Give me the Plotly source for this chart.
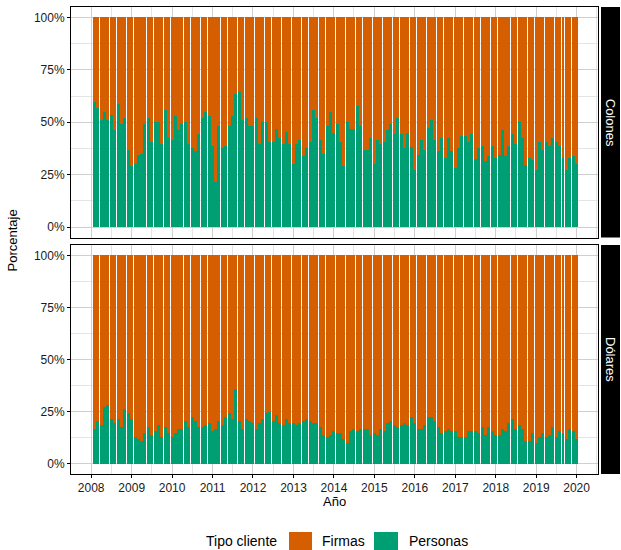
import pandas as pd
import plotly.graph_objects as go

# ---------------- data ----------------
fechas = pd.date_range("2008-01-31", periods=144, freq="ME").strftime("%Y-%m-%d").tolist()

personas_colones = [
    59.8, 56.6, 51.2, 55.0, 50.9, 53.7, 46.4, 58.5, 49.0, 51.8,
    36.8, 29.2, 30.1, 34.6, 34.9, 49.0, 52.2, 40.7, 49.9, 50.2,
    39.7, 55.7, 42.6, 41.6, 52.8, 46.1, 49.0, 50.2, 39.4, 37.8,
    36.5, 44.5, 52.2, 55.0, 53.1, 38.8, 21.5, 48.3, 37.8, 38.8,
    48.0, 52.8, 63.6, 64.6, 50.9, 51.8, 48.0, 48.0, 52.2, 39.4,
    49.9, 50.2, 40.7, 40.4, 47.0, 42.3, 39.7, 45.5, 39.4, 30.1,
    39.7, 41.3, 33.7, 37.5, 40.7, 55.7, 52.2, 41.3, 34.9, 48.0,
    54.7, 45.1, 49.3, 40.4, 28.9, 49.9, 47.0, 47.0, 57.9, 48.0,
    36.8, 36.8, 42.3, 30.1, 41.6, 39.7, 40.7, 46.1, 49.3, 44.5,
    51.8, 44.5, 37.8, 45.1, 38.4, 27.3, 34.6, 41.6, 36.8, 47.4,
    51.2, 41.3, 36.5, 42.6, 33.0, 42.3, 36.5, 28.2, 37.5, 43.5,
    43.5, 40.4, 44.5, 32.7, 37.5, 38.8, 31.7, 34.0, 38.8, 33.0,
    34.6, 46.4, 33.7, 38.8, 44.2, 39.4, 49.9, 42.3, 29.8, 33.0,
    32.1, 27.3, 40.7, 36.8, 40.7, 38.8, 42.3, 40.7, 38.8, 33.0,
    27.3, 33.0, 33.7, 30.1,
]

personas_dolares = [
    16.4, 20.6, 18.7, 27.0, 28.2, 21.2, 19.3, 21.2, 17.7, 26.0,
    24.4, 21.5, 12.9, 12.0, 10.7, 14.8, 17.4, 13.9, 15.5, 18.3,
    12.6, 17.7, 14.8, 12.9, 14.5, 16.4, 16.4, 20.3, 17.7, 22.2,
    20.3, 17.7, 17.7, 18.7, 19.6, 15.5, 16.7, 20.3, 18.3, 22.5,
    24.4, 21.5, 35.6, 20.3, 16.7, 21.2, 20.6, 19.6, 16.4, 19.3,
    21.2, 24.1, 25.0, 20.3, 23.4, 19.3, 18.3, 21.2, 19.6, 19.3,
    18.7, 19.6, 20.6, 21.2, 20.6, 19.3, 19.3, 17.4, 13.6, 12.9,
    13.6, 15.8, 14.5, 14.5, 11.6, 9.7, 15.5, 16.7, 15.5, 16.7,
    16.4, 16.4, 13.9, 14.5, 13.9, 16.4, 15.8, 19.3, 20.6, 18.7,
    17.7, 18.3, 19.6, 18.7, 22.5, 19.6, 16.7, 16.4, 18.3, 22.5,
    22.5, 20.3, 17.4, 14.5, 15.5, 16.4, 15.5, 15.8, 12.6, 12.9,
    12.6, 15.8, 15.5, 15.5, 14.8, 17.4, 13.9, 17.7, 15.5, 13.9,
    13.9, 16.7, 15.5, 19.3, 21.5, 16.4, 18.7, 16.4, 10.7, 10.7,
    14.5, 10.0, 12.6, 14.5, 12.9, 13.6, 17.4, 12.9, 15.8, 14.5,
    12.0, 16.4, 15.8, 12.0,
]

# share of the other client type (each month sums to 100%)
firmas_colones = [round(100 - v, 1) for v in personas_colones]
firmas_dolares = [round(100 - v, 1) for v in personas_dolares]

monedas = ["Colones", "Dólares"]
tipos = ["Firmas", "Personas"]
y_ticks = [0, 25, 50, 75, 100]
y_tick_labels = ["0%", "25%", "50%", "75%", "100%"]

# ---------------- styling ----------------
C_FIRMAS = "#D55E00"
C_PERSONAS = "#009E73"
FONT = "Liberation Sans, Arial, sans-serif"
BAR_W = 27.0 * 24 * 3600 * 1000  # bar width in ms
W, H = 621, 550
ML, MR, MT, MB = 71, 23, 7, 76
PW = W - ML - MR
PH = H - MT - MB

def px_x(p):
    return (p - ML) / PW

def px_y(p):
    return (H - MB - p) / PH

top_dom = [px_y(237.5), 1.0]
bot_dom = [0.0, px_y(245)]

fig = go.Figure()
panels = [("x", "y", personas_colones, firmas_colones),
          ("x2", "y2", personas_dolares, firmas_dolares)]
for xa, ya, pers, firm in panels:
    fig.add_trace(go.Bar(x=fechas, y=pers, name="Personas", width=BAR_W,
                         marker=dict(color=C_PERSONAS, line=dict(width=0)),
                         xaxis=xa, yaxis=ya, showlegend=False))
    fig.add_trace(go.Bar(x=fechas, y=firm, name="Firmas", width=BAR_W,
                         marker=dict(color=C_FIRMAS, line=dict(width=0)),
                         xaxis=xa, yaxis=ya, showlegend=False))

grid_major = "#cfcfcf"
grid_minor = "#e4e4e4"
x_range = ["2007-07-03", "2020-07-12"]

common_x = dict(type="date", range=x_range, showline=True, mirror=True,
                linecolor="black", linewidth=1, showgrid=True,
                gridcolor=grid_major, gridwidth=1, dtick="M12",
                tick0="2008-01-01", tickformat="%Y",
                minor=dict(dtick="M6", tick0="2008-07-01", showgrid=True,
                           gridcolor=grid_minor, gridwidth=1),
                zeroline=False)
common_y = dict(range=[-5, 105], tickvals=y_ticks, ticktext=y_tick_labels,
                ticks="outside", ticklen=3, tickcolor="black", showline=True,
                mirror=True, linecolor="black", linewidth=1, showgrid=True,
                gridcolor=grid_major, gridwidth=1,
                minor=dict(tickvals=[12.5, 37.5, 62.5, 87.5], showgrid=True,
                           gridcolor=grid_minor, gridwidth=1),
                zeroline=False, tickfont=dict(size=12, color="#1a1a1a"))

fig.update_layout(
    xaxis=dict(**common_x, anchor="y", domain=[0, 1], showticklabels=False, ticks=""),
    xaxis2=dict(**common_x, anchor="y2", domain=[0, 1], matches="x",
                ticks="outside", ticklen=3, tickcolor="black",
                tickfont=dict(size=12, color="#1a1a1a")),
    yaxis=dict(**common_y, anchor="x", domain=top_dom),
    yaxis2=dict(**common_y, anchor="x2", domain=bot_dom),
    barmode="stack",
    bargap=0,
    width=W, height=H,
    margin=dict(l=ML, r=MR, t=MT, b=MB),
    paper_bgcolor="white", plot_bgcolor="white",
    font=dict(family=FONT, size=12, color="black"),
    showlegend=False,
)

shapes = []
annotations = []
# facet strips on the right
for dom, label in zip([top_dom, bot_dom], monedas):
    shapes.append(dict(type="rect", xref="paper", yref="paper",
                       x0=px_x(601), x1=px_x(620), y0=dom[0], y1=dom[1],
                       fillcolor="black", line=dict(width=0), layer="below"))
    annotations.append(dict(xref="paper", yref="paper", x=px_x(610.5),
                            y=(dom[0] + dom[1]) / 2, text=label, textangle=90,
                            xanchor="center", yanchor="middle",
                            showarrow=False, font=dict(size=13, color="white")))

# axis titles
annotations.append(dict(xref="paper", yref="paper", x=px_x(12), y=0.5,
                        xanchor="center", yanchor="middle",
                        text="Porcentaje", textangle=-90, showarrow=False,
                        font=dict(size=13)))
annotations.append(dict(xref="paper", yref="paper", x=0.5, y=px_y(501),
                        xanchor="center", yanchor="middle",
                        text="Año", showarrow=False, font=dict(size=13)))

# legend (bottom)
ly0, ly1 = px_y(550), px_y(532)
lyc = px_y(541)
annotations.append(dict(xref="paper", yref="paper", x=px_x(204), y=lyc,
                        xanchor="left", yanchor="middle", text="Tipo cliente",
                        showarrow=False, font=dict(size=14)))
legend_items = [(tipos[0], C_FIRMAS, 289, 312, 320),
                (tipos[1], C_PERSONAS, 374, 398, 407)]
for name, col, bx0, bx1, tx in legend_items:
    shapes.append(dict(type="rect", xref="paper", yref="paper",
                       x0=px_x(bx0), x1=px_x(bx1), y0=ly0, y1=ly1,
                       fillcolor=col, line=dict(width=0)))
    annotations.append(dict(xref="paper", yref="paper", x=px_x(tx), y=lyc,
                            xanchor="left", yanchor="middle", text=name,
                            showarrow=False, font=dict(size=14)))

fig.update_layout(shapes=shapes, annotations=annotations)
fig.write_html("out.html", config={"displayModeBar": False},
               post_script="document.body.style.margin='0';document.body.style.padding='0';")
